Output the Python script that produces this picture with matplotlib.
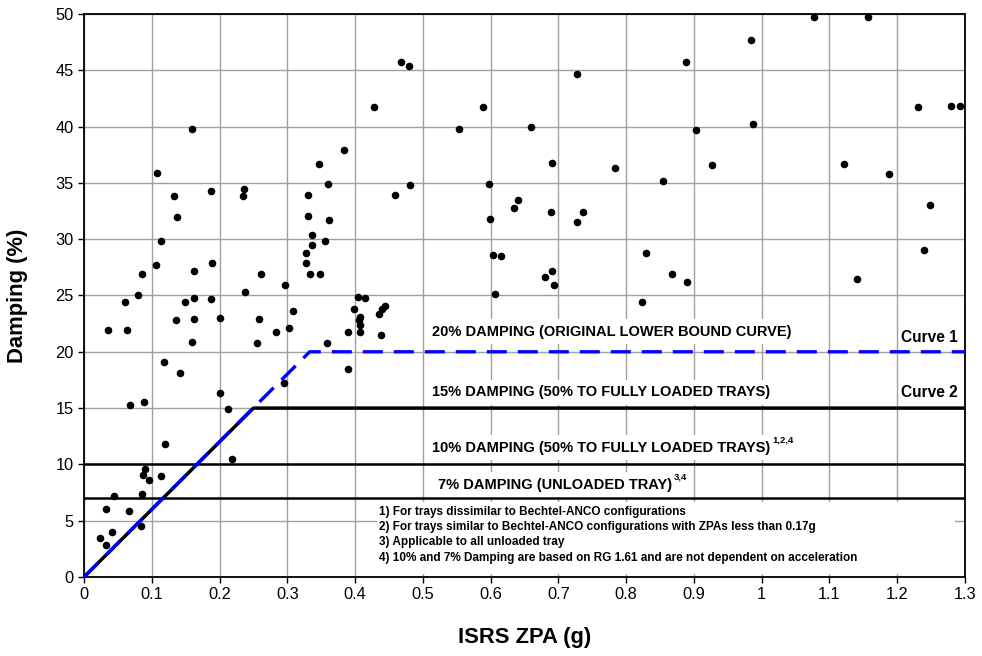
import matplotlib
matplotlib.use("Agg")
import matplotlib.pyplot as plt
from matplotlib.patches import Rectangle
import numpy as np

# scatter data
ZPA = [
    0.024, 0.032, 0.041, 0.084, 0.033, 0.067, 0.045, 0.085, 0.087, 0.090,
    0.096, 0.113, 0.119, 0.219, 0.068, 0.089, 0.118, 0.141, 0.200, 0.213,
    0.035, 0.064, 0.061, 0.080, 0.136, 0.149, 0.163, 0.162, 0.160, 0.188,
    0.200, 0.237, 0.258, 0.255, 0.283, 0.160, 0.108, 0.187, 0.236, 0.234,
    0.133, 0.138, 0.114, 0.107, 0.189, 0.162, 0.085, 0.261, 0.428, 0.589,
    0.554, 0.384, 0.347, 0.360, 0.459, 0.481, 0.597, 0.331, 0.330, 0.361,
    0.599, 0.337, 0.337, 0.356, 0.328, 0.328, 0.333, 0.349, 0.604, 0.615,
    0.607, 0.297, 0.308, 0.302, 0.358, 0.389, 0.405, 0.415, 0.399, 0.408,
    0.406, 0.407, 0.407, 0.436, 0.440, 0.444, 0.438, 0.389, 0.295, 0.468,
    0.479, 0.727, 0.888, 0.659, 0.903, 0.690, 0.783, 0.927, 0.855, 0.635,
    0.641, 0.689, 0.737, 0.728, 0.830, 0.680, 0.691, 0.693, 0.867, 0.890,
    0.823, 1.077, 1.157, 0.984, 0.987, 1.231, 1.280, 1.292, 1.122, 1.188,
    1.249, 1.239, 1.141,
]
DAMPING = [
    3.5, 2.8, 4.0, 4.5, 6.0, 5.9, 7.2, 7.4, 9.1, 9.6,
    8.6, 9.0, 11.8, 10.5, 15.3, 15.5, 19.1, 18.1, 16.3, 14.9,
    21.9, 21.9, 24.4, 25.0, 22.8, 24.4, 24.8, 22.9, 20.9, 24.7,
    23.0, 25.3, 22.9, 20.8, 21.8, 39.8, 35.9, 34.3, 34.5, 33.8,
    33.8, 32.0, 29.8, 27.7, 27.9, 27.2, 26.9, 26.9, 41.7, 41.7,
    39.8, 37.9, 36.7, 34.9, 33.9, 34.8, 34.9, 33.9, 32.1, 31.7,
    31.8, 30.4, 29.5, 29.8, 28.8, 27.9, 26.9, 26.9, 28.6, 28.5,
    25.1, 25.9, 23.6, 22.1, 20.8, 21.8, 24.9, 24.8, 23.8, 23.1,
    22.8, 22.4, 21.8, 23.4, 23.8, 24.1, 21.5, 18.5, 17.2, 45.7,
    45.4, 44.7, 45.7, 40.0, 39.7, 36.8, 36.3, 36.6, 35.2, 32.8,
    33.5, 32.4, 32.4, 31.5, 28.8, 26.6, 27.2, 25.9, 26.9, 26.2,
    24.4, 49.7, 49.7, 47.7, 40.2, 41.7, 41.8, 41.8, 36.7, 35.8,
    33.0, 29.0, 26.5,
]

# design curves
CURVE1_X = [0.0, 0.333, 1.3]
CURVE1_Y = [0.0, 20.0, 20.0]
CURVE2_X = [0.0, 0.25, 1.3]
CURVE2_Y = [0.0, 15.0, 15.0]
LEVEL_10 = 10.0
LEVEL_7 = 7.0

NOTES = [
    "1) For trays dissimilar to Bechtel-ANCO configurations",
    "2) For trays similar to Bechtel-ANCO configurations with ZPAs less than 0.17g",
    "3) Applicable to all unloaded tray",
    "4) 10% and 7% Damping are based on RG 1.61 and are not dependent on acceleration",
]
NOTE_Y = [5.77, 4.44, 3.11, 1.71]

plt.rcParams.update({
    "font.family": ["Liberation Sans", "DejaVu Sans"],
    "font.size": 11,
})

fig = plt.figure(figsize=(9.82, 6.56), dpi=100)
ax = fig.add_axes([0.0855, 0.1204, 0.8972, 0.8583])

ax.set_xlim(0, 1.3)
ax.set_ylim(0, 50)
ax.set_xticks(np.arange(0, 1.31, 0.1))
ax.set_xticklabels(["0", "0.1", "0.2", "0.3", "0.4", "0.5", "0.6", "0.7",
                    "0.8", "0.9", "1", "1.1", "1.2", "1.3"])
ax.set_yticks(np.arange(0, 51, 5))
ax.grid(True, color="#a0a0a0", linewidth=1.0, zorder=0)
ax.set_axisbelow(True)
ax.tick_params(length=4, width=1, labelsize=11.8)
for sp in ax.spines.values():
    sp.set_linewidth(1.3)

# horizontal 10% and 7% lines
ax.axhline(LEVEL_10, color="black", linewidth=1.8, zorder=2)
ax.axhline(LEVEL_7, color="black", linewidth=1.8, zorder=2)

ax.plot(CURVE2_X, CURVE2_Y, color="black", linewidth=2.5, zorder=3,
        solid_capstyle="butt")
ax.plot(CURVE1_X, CURVE1_Y, color="#0000ff", linewidth=2.4, zorder=4,
        dashes=(6, 3.3))

ax.scatter(ZPA, DAMPING, s=30, color="black", zorder=5, clip_on=False,
           linewidths=0)

box = dict(facecolor="white", edgecolor="none", pad=4)
lab_kw = dict(fontsize=10.5, fontweight="bold", va="center", ha="left",
              zorder=2.5, bbox=box)
ax.text(0.514, 21.8, "20% DAMPING (ORIGINAL LOWER BOUND CURVE)", **lab_kw)
ax.text(0.514, 16.4, "15% DAMPING (50% TO FULLY LOADED TRAYS)", **lab_kw)
t10 = ax.text(0.514, 11.5, "10% DAMPING (50% TO FULLY LOADED TRAYS)", **lab_kw)
t7 = ax.text(0.523, 8.2, "7% DAMPING (UNLOADED TRAY)", **lab_kw)
for t, sup in [(t10, "1,2,4"), (t7, "3,4")]:
    ax.annotate(sup, xy=(1, 0.7), xycoords=t, xytext=(1, 0),
                textcoords="offset points", fontsize=6.8, fontweight="bold",
                va="bottom", ha="left", zorder=4)

ax.text(1.206, 21.3, "Curve 1", fontsize=11.2, fontweight="bold",
        va="center", ha="left", zorder=3.5)
ax.text(1.206, 16.4, "Curve 2", fontsize=11.2, fontweight="bold",
        va="center", ha="left", zorder=3.5)

# notes box
ax.add_patch(Rectangle((0.432, 0.25), 0.853, 6.4, facecolor="white",
                       edgecolor="none", zorder=1.5))
for y, line in zip(NOTE_Y, NOTES):
    ax.text(0.436, y, line, fontsize=8.45, fontweight="bold",
            va="center", ha="left", zorder=3.5)

ax.set_xlabel("ISRS ZPA (g)", fontsize=15.8, fontweight="bold")
ax.set_ylabel("Damping (%)", fontsize=15.8, fontweight="bold")
ax.xaxis.set_label_coords(0.5, -0.088)
ax.yaxis.set_label_coords(-0.064, 0.5)

fig.savefig("out.png", dpi=100)
